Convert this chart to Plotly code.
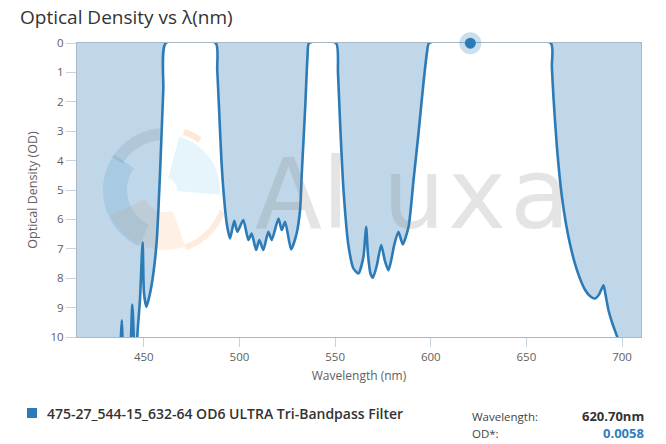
import numpy as np
import plotly.graph_objects as go

# ---------------- data ----------------
WAVELENGTH = [415, 436, 437.9, 438.5, 439.0, 441, 443.2, 444.0, 444.9, 446.0, 446.6, 448.0, 449.4, 450.1, 451.4,
              453.0, 455.0, 456.8, 458.5, 460.2, 461.5,
              487.6, 488.4, 489.4, 490.6, 492.0, 493.5, 495.1, 497.3, 498.9, 502.0, 504.7, 506.4, 508.7, 510.4,
              512.5, 515.1, 516.9, 520.4, 522.1, 523.9, 527.0, 529.9, 531.7, 532.6, 534.4, 535.6, 536.4,
              550.5, 551.5, 552.6, 554.4, 557.0, 559.6, 562.2, 564.8, 566.2, 567.2, 568.5, 569.8, 571.7, 574.1,
              576.0, 577.9, 579.6, 580.8, 583.1, 585.4, 588.4, 591.0, 593.6, 596.2, 598.0, 599.2,
              662.7, 663.3, 664.1, 665.9, 668.5, 672.0, 676.3, 680.7, 683.5, 685.9, 688.0, 690.3, 691.2, 692.9,
              695.0, 697.5, 700, 705, 710]
OD = [12, 12, 10.2, 9.43, 10.2, 12, 10.2, 8.9, 10.2, 12, 10.0, 8.75, 6.78, 8.5, 8.98,
      8.6, 7.84, 6.7, 4.43, 1.59, 0,
      0, 0.9, 2.3, 4.0, 5.3, 6.2, 6.65, 6.05, 6.42, 6.02, 6.7, 6.48, 7.04, 6.7,
      7.04, 6.42, 6.7, 5.97, 6.36, 6.08, 7.02, 6.48, 5.68, 4.43, 2.16, 0.45, 0,
      0, 1.0, 2.7, 5.0, 6.9, 7.67, 7.84, 7.28, 6.25, 7.2, 7.85, 7.98, 7.6, 6.87,
      7.4, 7.73, 7.3, 6.9, 6.42, 6.85, 6.25, 4.66, 3.07, 1.36, 0.34, 0,
      0, 0.8, 1.8, 3.5, 5.2, 6.6, 7.7, 8.4, 8.62, 8.69, 8.55, 8.24, 8.5, 9.09,
      9.55, 10.0, 10.5, 11.5, 12]

SERIES_NAME = "475-27_544-15_632-64 OD6 ULTRA Tri-Bandpass Filter"
HOVER_WL = 620.70
HOVER_OD = 0.0058
X_TICKS = [450, 500, 550, 600, 650, 700]
Y_TICKS = list(range(0, 11))
WATERMARK = "Aluxa"

LINE = "#2c7bb6"
FILL = "rgba(44,123,182,0.30)"
FONT = "Open Sans"

# ---------------- figure ----------------
fig = go.Figure()
fig.add_trace(go.Scatter(x=WAVELENGTH, y=OD, mode="lines", fill="tozeroy", fillcolor=FILL,
                         line=dict(color=LINE, width=2.6, shape="spline", smoothing=0.6),
                         showlegend=False, hoverinfo="skip"))
fig.add_trace(go.Scatter(x=[HOVER_WL, HOVER_WL], y=[HOVER_OD, HOVER_OD], mode="markers", cliponaxis=False,
                         marker=dict(size=[22, 11], color=["rgba(44,123,182,0.25)", LINE], line=dict(width=0),
                                     opacity=1),
                         showlegend=False, hoverinfo="skip"))

L, R, T, B = 77, 641, 43, 337
PW, PH = R - L, B - T


def px2paper(px, py):
    return (px - L) / PW, (B - py) / PH


def sector(cx, cy, r0, r1, a0, a1, n=40):
    a = np.radians(np.linspace(a0, a1, n))
    outer = [px2paper(cx + r1 * np.cos(t), cy - r1 * np.sin(t)) for t in a]
    inner = [px2paper(cx + r0 * np.cos(t), cy - r0 * np.sin(t)) for t in a[::-1]]
    pts = outer + inner
    return "M" + " L".join(f"{x:.4f},{y:.4f}" for x, y in pts) + " Z"


cx, cy = 165, 190
logo = [
    (38, 62, 145, 245, "rgba(110,170,210,0.22)"),
    (50, 62, 95, 148, "rgba(110,110,110,0.15)"),
    (22, 60, 205, 290, "rgba(250,195,150,0.25)"),
    (12, 55, -5, 75, "rgba(190,230,245,0.38)"),
    (58, 64, 55, 72, "rgba(250,195,150,0.38)"),
    (58, 64, 290, 340, "rgba(250,195,150,0.32)"),
]
shapes = []
for r0, r1, a0, a1, col in logo:
    shapes.append(dict(type="path", xref="paper", yref="paper", path=sector(cx, cy, r0, r1, a0, a1),
                       fillcolor=col, line=dict(width=0), layer="below"))

# legend square
x0, y0 = px2paper(27, 418)
x1, y1 = px2paper(37, 408)
shapes.append(dict(type="rect", xref="paper", yref="paper", x0=x0, y0=y0, x1=x1, y1=y1,
                   fillcolor=LINE, line=dict(width=0)))

annotations = []
letter_px = [288, 335, 414, 477, 540]
for ch, lxp in zip(WATERMARK, letter_px):
    wx, wy = px2paper(lxp, 194)
    annotations.append(dict(text=ch, xref="paper", yref="paper", x=wx, y=wy, xanchor="center", yanchor="middle",
                            showarrow=False, font=dict(family="DejaVu Sans", size=98,
                                                       color="rgba(120,120,120,0.20)")))
lx, ly = px2paper(45, 413)
annotations.append(dict(text=SERIES_NAME, xref="paper", yref="paper", x=lx, y=ly, xanchor="left",
                        yanchor="middle", showarrow=False,
                        font=dict(family=FONT, size=14, weight=600, color="#333333")))
ax, ay1 = px2paper(470, 416)
_, ay2 = px2paper(470, 433)
rx, _ = px2paper(646, 416)
annotations += [
    dict(text="Wavelength:", xref="paper", yref="paper", x=ax, y=ay1, xanchor="left", yanchor="middle",
         showarrow=False, font=dict(family=FONT, size=11.5, color="#444444")),
    dict(text=f"{HOVER_WL:.2f}nm", xref="paper", yref="paper", x=rx, y=ay1, xanchor="right", yanchor="middle",
         showarrow=False, font=dict(family=FONT, size=13, weight="bold", color="#333333")),
    dict(text="OD*:", xref="paper", yref="paper", x=ax, y=ay2, xanchor="left", yanchor="middle",
         showarrow=False, font=dict(family=FONT, size=11.5, color="#444444")),
    dict(text=f"{HOVER_OD:.4f}", xref="paper", yref="paper", x=rx, y=ay2, xanchor="right", yanchor="middle",
         showarrow=False, font=dict(family=FONT, size=13, weight="bold", color="#2f7fc0")),
]

fig.update_layout(
    width=666, height=444,
    margin=dict(l=L, r=666 - R, t=T, b=444 - B),
    paper_bgcolor="white", plot_bgcolor="white",
    title=dict(text="Optical Density vs λ(nm)", x=20 / 666, xanchor="left", xref="container",
               y=1 - 17 / 444, yanchor="middle", yref="container",
               font=dict(family=FONT, size=19, color="#333333")),
    shapes=shapes, annotations=annotations,
    showlegend=False,
)
fig.update_xaxes(range=[415.1, 709.9], tickvals=X_TICKS, showgrid=False, zeroline=False,
                 ticks="outside", ticklen=9, tickcolor="#c6d2e0", showline=True, linecolor="#aab8c6",
                 mirror=True, layer="below traces", tickfont=dict(family=FONT, size=11.5, color="#606060"),
                 title=dict(text="Wavelength (nm)", font=dict(family=FONT, size=12, color="#606060"),
                            standoff=8))
fig.update_yaxes(range=[10, 0], tickvals=Y_TICKS, showgrid=False, zeroline=False,
                 ticks="outside", ticklen=10, tickcolor="#c6d2e0", showline=True, linecolor="#aab8c6",
                 mirror=True, layer="below traces", tickfont=dict(family=FONT, size=11.5, color="#606060"),
                 title=dict(text="Optical Density (OD)", font=dict(family=FONT, size=12.5, color="#606060"),
                            standoff=10))

fig.write_html("out.html", config={"displayModeBar": False},
               post_script="document.body.style.margin='0px';document.body.style.overflow='hidden';")
